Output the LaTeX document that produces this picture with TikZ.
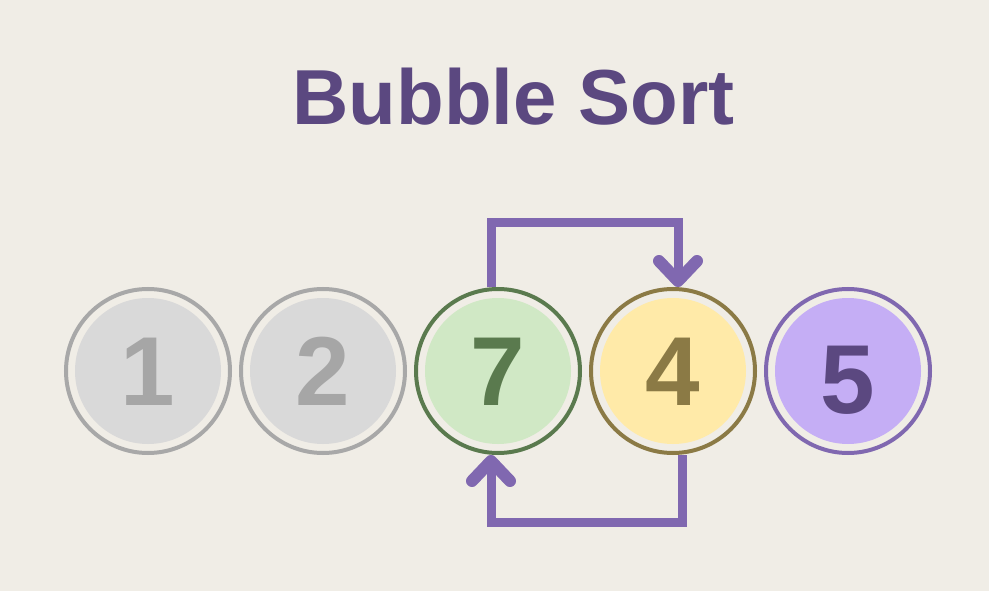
\documentclass[tikz,border=0pt]{standalone}
\usepackage{fontspec}
\setmainfont{Liberation Sans}
\usetikzlibrary{arrows.meta}
\definecolor{bg}{HTML}{F0EDE6}
\definecolor{greyring}{HTML}{A8A8A8}
\definecolor{greyfill}{HTML}{D9D9D9}
\definecolor{greytxt}{HTML}{A6A6A6}
\definecolor{greenring}{HTML}{5A7A4E}
\definecolor{greenfill}{HTML}{D0E8C5}
\definecolor{yelring}{HTML}{8B7A45}
\definecolor{yelfill}{HTML}{FFEAA8}
\definecolor{purring}{HTML}{8068B0}
\definecolor{purfill}{HTML}{C5AEF5}
\definecolor{purtxt}{HTML}{5B4880}
\tikzset{
  ball/.style n args={2}{circle, minimum size=164pt, inner sep=0pt, line width=4pt,
    draw=#1, fill=bg,
    path picture={\fill[#2] (path picture bounding box.center) circle (73pt);}},
  digit/.style={anchor=base, text=#1, font=\fontsize{98}{98}\selectfont\bfseries, inner sep=0pt},
  conn/.style={draw=purring, line width=9pt,
    -{Straight Barb[length=20pt, width=38pt, line width=12pt, round]}}
}
\begin{document}
\begin{tikzpicture}[x=1pt,y=-1pt]
\fill[bg] (0,0) rectangle (989,591);
\useasboundingbox (0,0) rectangle (989,591);
\node[anchor=base, text=purtxt, font=\fontsize{78}{78}\selectfont\bfseries, inner sep=0pt] (title) at (513.5,125) {Bubble Sort};
\node[ball={greyring}{greyfill}] (n1) at (148,371) {};
\node[ball={greyring}{greyfill}] (n2) at (323,371) {};
\node[ball={greenring}{greenfill}] (n7) at (498,371) {};
\node[ball={yelring}{yelfill}] (n4) at (673,371) {};
\node[ball={purring}{purfill}] (n5) at (848,371) {};
\node[digit=greytxt] (d1) at (148,405) {1};
\node[digit=greytxt] (d2) at (323,405) {2};
\node[digit=greenring] (d7) at (498,405) {7};
\node[digit=yelring] (d4) at (673,405) {4};
\node[digit=purtxt] (d5) at (848,413) {5};
\coordinate (tr) at (678,223);
\coordinate (bl) at (491,522);
\draw[conn] ([xshift=-7pt]n7.north) |- (tr) -- ([xshift=5pt]n4.north);
\draw[conn] ([xshift=9pt]n4.south) |- (bl) -- ([xshift=-7pt]n7.south);
\end{tikzpicture}
\end{document}
